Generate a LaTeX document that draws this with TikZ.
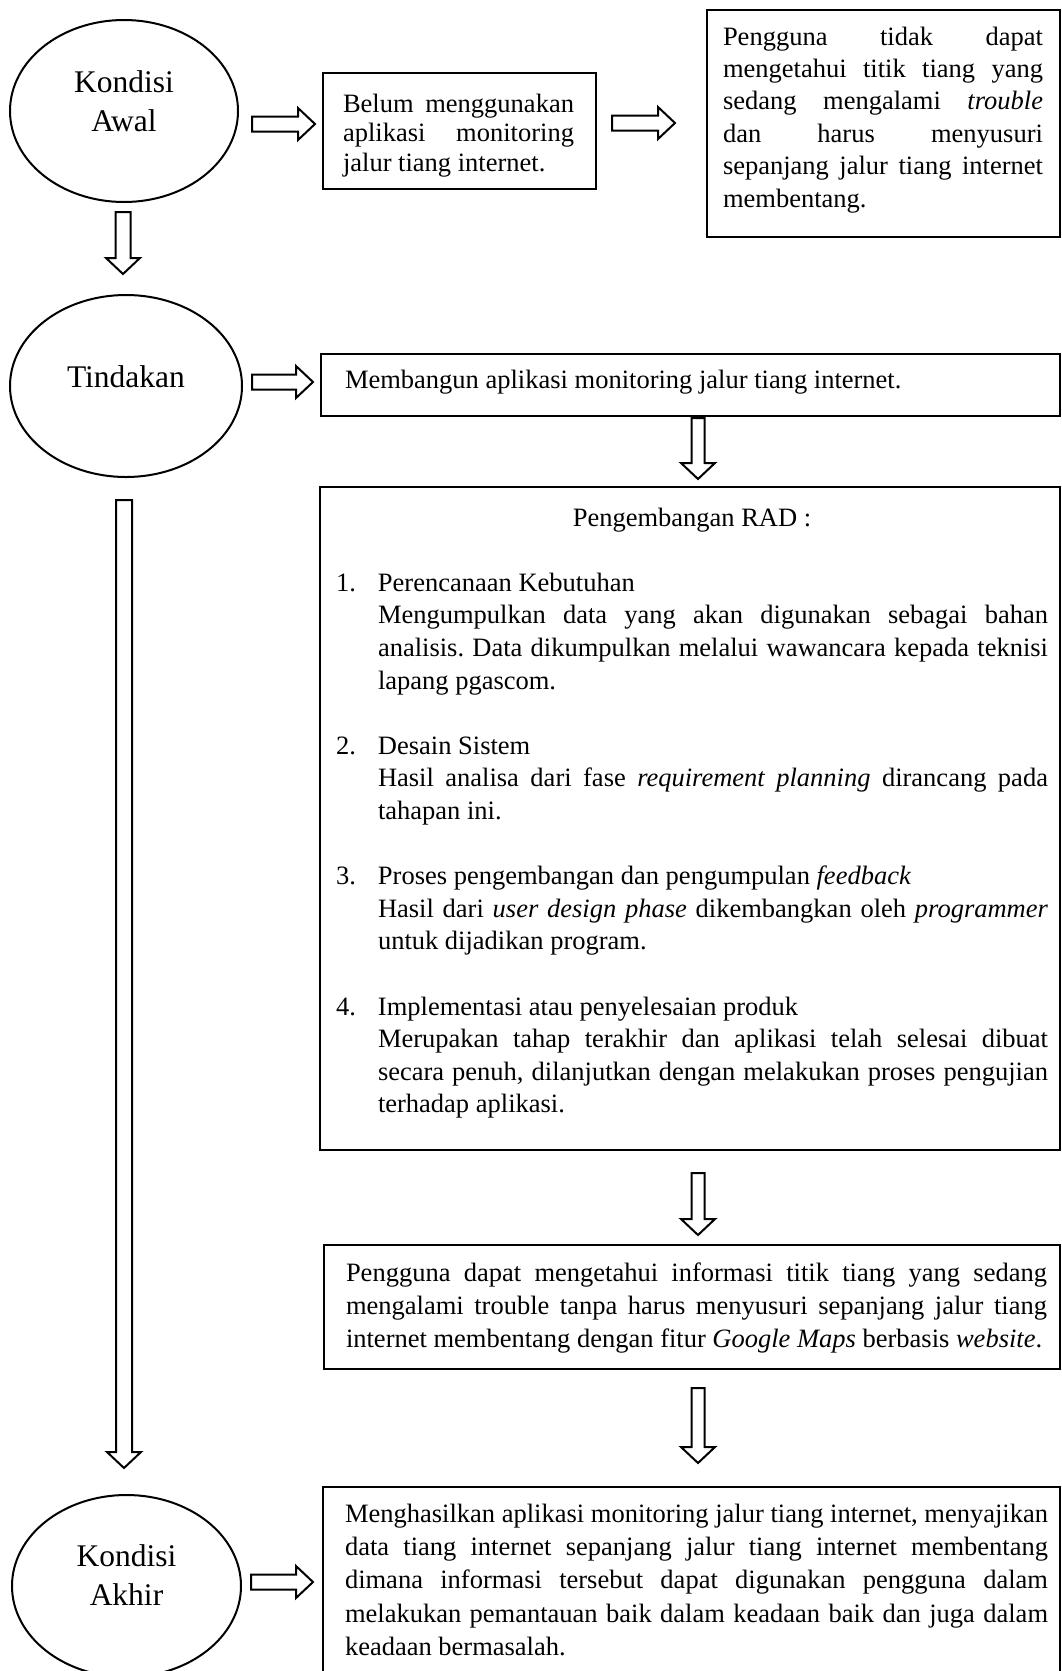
\documentclass[tikz,border=0pt]{standalone}
\usepackage{fontspec}
\setmainfont{Liberation Serif}
\usetikzlibrary{shapes.geometric,calc}
\newcommand\ns{\spaceskip=0pt\xspaceskip=0pt\frenchspacing\relax}
\newcommand\jl[2]{\makebox[#1][s]{#2}}
\newcommand\hollowH[2]{\draw[blockarrow] let \p1=(#1), \p2=(#2) in
  (\x1,{\y1+7.5pt}) -- ({\x2-17pt},{\y1+7.5pt}) -- ({\x2-17pt},{\y1+16pt}) -- (\x2,\y1)
  -- ({\x2-17pt},{\y1-16pt}) -- ({\x2-17pt},{\y1-7.5pt}) -- (\x1,{\y1-7.5pt}) -- cycle;}
\newcommand\hollowV[3]{\draw[blockarrow] let \p1=(#1), \p2=(#2) in
  ({\x1-#3},\y1) -- ({\x1-#3},{\y2+16pt}) -- ({\x1-17pt},{\y2+16pt}) -- (\x1,\y2)
  -- ({\x1+17pt},{\y2+16pt}) -- ({\x1+#3},{\y2+16pt}) -- ({\x1+#3},\y1) -- cycle;}
\begin{document}
\begin{tikzpicture}[x=1pt,y=-1pt,
  oval/.style={ellipse,draw,line width=2pt,inner sep=0pt,align=center,
    font={\fontsize{31.5pt}{39pt}\selectfont}},
  textbox/.style={draw,line width=2.2pt,inner sep=0pt,align=left,
    font={\fontsize{26.5pt}{32.6pt}\selectfont}},
  blockarrow/.style={draw,line width=2pt,fill=white,line join=miter}]
\useasboundingbox (0,0) rectangle (1062,1671);
\clip (0,0) rectangle (1062,1671);
\fill[white] (0,0) rectangle (1062,1671);

% left column
\node[oval, minimum width=228pt, minimum height=182pt, text height=60pt, text depth=20pt] (awal) at (124,111) {Kondisi\\Awal};
\node[oval, minimum width=232pt, minimum height=182pt, text height=21pt, text depth=19pt] (tindakan) at (126,386) {Tindakan};
\node[oval, minimum width=229pt, minimum height=182pt, text height=60pt, text depth=22pt] (akhir) at (126.5,1586) {Kondisi\\Akhir};

% top row
\node[textbox, font={\fontsize{26.5pt}{29.5pt}\selectfont}, minimum width=273pt, minimum height=116pt, text width=233pt, text height=18pt, text depth=56pt] (belum) at (459.5,131)
{\ns\jl{231pt}{Belum menggunakan}\\
 \jl{231pt}{aplikasi monitoring}\\
 \mbox{jalur tiang internet.}};

\node[textbox, font={\fontsize{26.5pt}{32.4pt}\selectfont}, minimum width=353pt, minimum height=227pt, text width=321pt, text height=18pt, text depth=175pt] (tidak) at (883.5,123.5)
{\ns\jl{320pt}{Pengguna tidak dapat}\\
 \jl{320pt}{mengetahui titik tiang yang}\\
 \jl{320pt}{sedang mengalami \textit{trouble}}\\
 \jl{320pt}{dan harus menyusuri}\\
 \jl{320pt}{sepanjang jalur tiang internet}\\
 \mbox{membentang.}};

% action
\node[textbox, minimum width=739pt, minimum height=62pt, text width=691pt, text height=18pt, text depth=12pt] (bangun) at (690.5,385)
{\ns\mbox{Membangun aplikasi monitoring jalur tiang internet.}};

\node[textbox, minimum width=740pt, minimum height=663pt, text width=708pt, text height=18pt, text depth=603pt] (rad) at (690,818.5)
{\ns\makebox[712pt][c]{Pengembangan RAD :}\\
 \mbox{}\\
 \makebox[42pt][l]{1.}\mbox{Perencanaan Kebutuhan}\\
 \hspace*{42pt}\jl{670pt}{Mengumpulkan data yang akan digunakan sebagai bahan}\\
 \hspace*{42pt}\jl{670pt}{analisis. Data dikumpulkan melalui wawancara kepada teknisi}\\
 \hspace*{42pt}\mbox{lapang pgascom.}\\
 \mbox{}\\
 \makebox[42pt][l]{2.}\mbox{Desain Sistem}\\
 \hspace*{42pt}\jl{670pt}{Hasil analisa dari fase \textit{requirement planning} dirancang pada}\\
 \hspace*{42pt}\mbox{tahapan ini.}\\
 \mbox{}\\
 \makebox[42pt][l]{3.}\mbox{Proses pengembangan dan pengumpulan \textit{feedback}}\\
 \hspace*{42pt}\jl{670pt}{Hasil dari \textit{user design phase} dikembangkan oleh \textit{programmer}}\\
 \hspace*{42pt}\mbox{untuk dijadikan program.}\\
 \mbox{}\\
 \makebox[42pt][l]{4.}\mbox{Implementasi atau penyelesaian produk}\\
 \hspace*{42pt}\jl{670pt}{Merupakan tahap terakhir dan aplikasi telah selesai dibuat}\\
 \hspace*{42pt}\jl{670pt}{secara penuh, dilanjutkan dengan melakukan proses pengujian}\\
 \hspace*{42pt}\mbox{terhadap aplikasi.}};

\node[textbox, font={\fontsize{26.5pt}{33pt}\selectfont}, minimum width=736pt, minimum height=124pt, text width=692pt, text height=18pt, text depth=70pt] (dapat) at (692,1307)
{\ns\jl{701pt}{Pengguna dapat mengetahui informasi titik tiang yang sedang}\\
 \jl{701pt}{mengalami trouble tanpa harus menyusuri sepanjang jalur tiang}\\
 \mbox{internet membentang dengan fitur \textit{Google Maps} berbasis \textit{website}.}};

\node[textbox, font={\fontsize{26.5pt}{33.3pt}\selectfont}, anchor=north, minimum width=737pt, inner ysep=17pt, text width=693pt, text height=18pt, text depth=155pt] (hasil) at (691.5,1486)
{\ns\jl{703pt}{Menghasilkan aplikasi monitoring jalur tiang internet, menyajikan}\\
 \jl{703pt}{data tiang internet sepanjang jalur tiang internet membentang}\\
 \jl{703pt}{dimana informasi tersebut dapat digunakan pengguna dalam}\\
 \jl{703pt}{melakukan pemantauan baik dalam keadaan baik dan juga dalam}\\
 \mbox{keadaan bermasalah.}};

% block arrows
\coordinate (h1a) at (252,124);  \coordinate (h1b) at (315,124);
\coordinate (h2a) at (612,123);  \coordinate (h2b) at (675,123);
\coordinate (h3a) at (252,382);  \coordinate (h3b) at (313,382);
\coordinate (h4a) at (251,1582); \coordinate (h4b) at (313,1582);
\coordinate (v1a) at (123,212);  \coordinate (v1b) at (123,274);
\coordinate (v2a) at (698,418);  \coordinate (v2b) at (698,479);
\coordinate (v3a) at (124,500);  \coordinate (v3b) at (124,1468);
\coordinate (v4a) at (698,1173); \coordinate (v4b) at (698,1235);
\coordinate (v5a) at (698,1388); \coordinate (v5b) at (698,1463);
\hollowH{h1a}{h1b}
\hollowH{h2a}{h2b}
\hollowH{h3a}{h3b}
\hollowH{h4a}{h4b}
\hollowV{v1a}{v1b}{7.5pt}
\hollowV{v2a}{v2b}{6.5pt}
\hollowV{v3a}{v3b}{8pt}
\hollowV{v4a}{v4b}{6.5pt}
\hollowV{v5a}{v5b}{6.5pt}
\end{tikzpicture}
\end{document}
